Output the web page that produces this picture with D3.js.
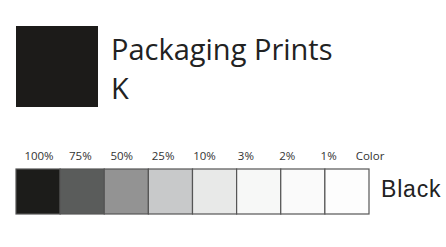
<!DOCTYPE html>
<html>
<head>
<meta charset="utf-8">
<script src="https://d3js.org/d3.v7.min.js"></script>
<style>
body { margin: 0; background: #fff; }
</style>
</head>
<body>
<svg></svg>
<script>
var tints = ['100%', '75%', '50%', '25%', '10%', '3%', '2%', '1%'];
var tintColors = ['#1c1c1a', '#5a5c5b', '#939393', '#c8c9ca', '#e8e9e8', '#f7f8f7', '#fafafa', '#fdfdfd'];
var headerLabels = tints.concat(['Color']);
var title = ['Packaging Prints', 'K'];
var colorName = 'Black';

var svg = d3.select('svg')
  .attr('width', 446)
  .attr('height', 247);

// big swatch + title
svg.append('rect')
  .attr('x', 16).attr('y', 26)
  .attr('width', 82).attr('height', 81)
  .attr('fill', '#1c1b19');

svg.selectAll('text.title')
  .data(title)
  .enter()
  .append('text')
  .attr('class', 'title')
  .attr('x', 111)
  .attr('y', (d, i) => 60 + i * 39)
  .attr('font-family', 'Open Sans')
  .attr('font-size', 29)
  .attr('fill', '#222')
  .text(d => d);

// tint strip
var x = d3.scaleBand()
  .domain(tints)
  .range([16, 369]);

var xl = d3.scalePoint()
  .domain(headerLabels)
  .range([39, 370]);

svg.selectAll('rect.tint')
  .data(tints)
  .enter()
  .append('rect')
  .attr('class', 'tint')
  .attr('x', d => x(d))
  .attr('y', 169)
  .attr('width', x.bandwidth())
  .attr('height', 45)
  .attr('fill', (d, i) => tintColors[i])
  .attr('stroke', '#555')
  .attr('stroke-width', 1.2);

svg.selectAll('text.lbl')
  .data(headerLabels)
  .enter()
  .append('text')
  .attr('class', 'lbl')
  .attr('x', d => xl(d))
  .attr('y', 160)
  .attr('text-anchor', 'middle')
  .attr('font-family', 'Open Sans')
  .attr('font-size', 11.5)
  .attr('fill', '#333')
  .text(d => d);

svg.append('text')
  .attr('x', 381)
  .attr('y', 197)
  .attr('font-family', 'Liberation Sans')
  .attr('font-size', 23)
  .attr('letter-spacing', 0.8)
  .attr('fill', '#222')
  .text(colorName);
</script>
</body>
</html>
